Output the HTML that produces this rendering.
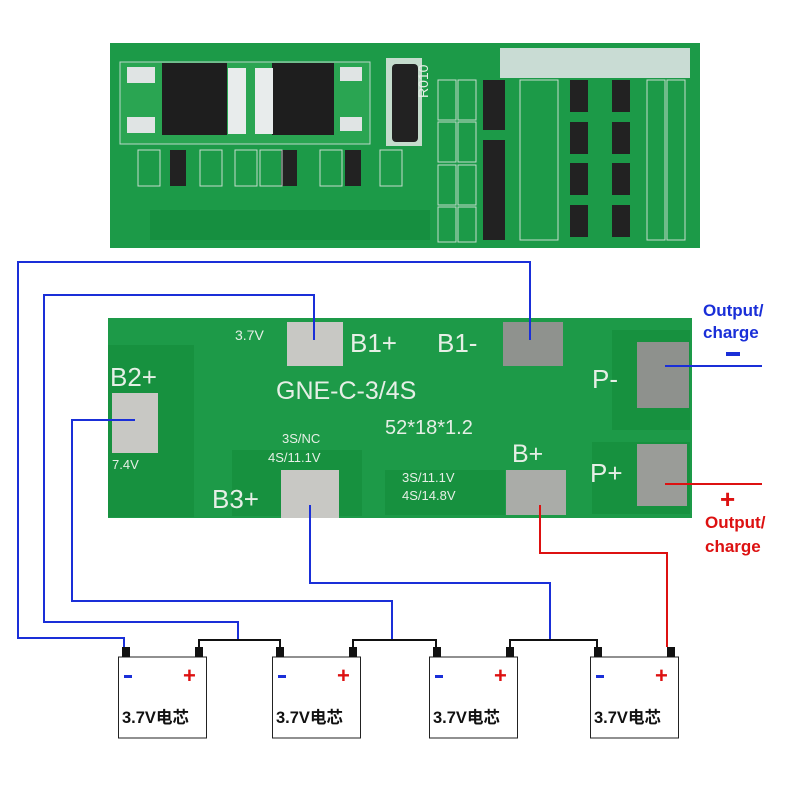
<!DOCTYPE html>
<html><head><meta charset="utf-8"><style>
html,body{margin:0;padding:0;background:#fff;width:800px;height:800px;overflow:hidden}
svg{display:block}
.s{font-family:"Liberation Sans",sans-serif;fill:#e6efe6}
.b{font-family:"Liberation Sans","Noto Sans CJK SC",sans-serif;font-weight:bold}
</style></head><body>
<svg width="800" height="800" viewBox="0 0 800 800">
<!-- top board -->
<rect x="110" y="43" width="590" height="205" fill="#1c9a48"/>
<rect x="500" y="48" width="190" height="30" fill="#c9dcd4"/>
<rect x="150" y="210" width="280" height="30" fill="#168f40"/>
<g fill="#c5dccd">
<rect x="120" y="62" width="250" height="82" fill="#2aa552" stroke="#b8d8c8"/>
<rect x="386" y="58" width="36" height="88"/>
</g>
<rect x="162" y="63" width="65" height="72" fill="#1e1e1e"/>
<rect x="272" y="63" width="62" height="72" fill="#1e1e1e"/>
<rect x="228" y="68" width="18" height="66" fill="#e8ecec"/>
<rect x="255" y="68" width="18" height="66" fill="#e8ecec"/>
<rect x="127" y="67" width="28" height="16" fill="#e0e4e4"/>
<rect x="127" y="117" width="28" height="16" fill="#e0e4e4"/>
<rect x="340" y="67" width="22" height="14" fill="#e0e4e4"/>
<rect x="340" y="117" width="22" height="14" fill="#e0e4e4"/>
<rect x="392" y="64" width="26" height="78" rx="4" fill="#222"/>
<text x="412" y="118" transform="rotate(-90 410 100)" class="s" font-size="14">R010</text>
<g fill="#222">
<rect x="170" y="150" width="16" height="36"/><rect x="281" y="150" width="16" height="36"/><rect x="345" y="150" width="16" height="36"/>
<rect x="483" y="80" width="22" height="50"/><rect x="483" y="140" width="22" height="50"/><rect x="483" y="185" width="22" height="35"/><rect x="483" y="205" width="22" height="35"/>
<rect x="570" y="80" width="18" height="32"/><rect x="612" y="80" width="18" height="32"/>
<rect x="570" y="122" width="18" height="32"/><rect x="612" y="122" width="18" height="32"/>
<rect x="570" y="163" width="18" height="32"/><rect x="612" y="163" width="18" height="32"/>
<rect x="570" y="205" width="18" height="32"/><rect x="612" y="205" width="18" height="32"/>
</g>
<g fill="none" stroke="#c5dccd">
<rect x="138" y="150" width="22" height="36"/><rect x="200" y="150" width="22" height="36"/><rect x="235" y="150" width="22" height="36"/><rect x="260" y="150" width="22" height="36"/><rect x="320" y="150" width="22" height="36"/><rect x="380" y="150" width="22" height="36"/>
<rect x="438" y="80" width="18" height="40"/><rect x="458" y="80" width="18" height="40"/>
<rect x="438" y="122" width="18" height="40"/><rect x="458" y="122" width="18" height="40"/>
<rect x="438" y="165" width="18" height="40"/><rect x="458" y="165" width="18" height="40"/>
<rect x="438" y="207" width="18" height="35"/><rect x="458" y="207" width="18" height="35"/>
<rect x="647" y="80" width="18" height="160"/><rect x="667" y="80" width="18" height="160"/>
<rect x="520" y="80" width="38" height="160"/>
</g>
<!-- bottom board -->
<rect x="108" y="318" width="584" height="200" fill="#1d9a48"/>
<rect x="108" y="345" width="86" height="172" fill="#17913f"/>
<rect x="232" y="450" width="130" height="66" fill="#17913f"/>
<rect x="385" y="470" width="120" height="45" fill="#17913f"/>
<rect x="612" y="330" width="78" height="100" fill="#17913f"/>
<rect x="592" y="442" width="98" height="72" fill="#17913f"/>
<g fill="#c8c8c4">
<rect x="287" y="322" width="56" height="44"/>
<rect x="503" y="322" width="60" height="44" fill="#8f928e"/>
<rect x="112" y="393" width="46" height="60"/>
<rect x="281" y="470" width="58" height="48"/>
<rect x="506" y="470" width="60" height="45" fill="#aaaca8"/>
<rect x="637" y="342" width="52" height="66" fill="#8e918d"/>
<rect x="637" y="444" width="50" height="62" fill="#9a9c98"/>
</g>
<g class="s" font-family="Liberation Sans">
<text x="235" y="340" font-size="14">3.7V</text>
<text x="350" y="352" font-size="26">B1+</text>
<text x="437" y="352" font-size="26">B1-</text>
<text x="110" y="386" font-size="26">B2+</text>
<text x="276" y="399" font-size="25">GNE-C-3/4S</text>
<text x="385" y="434" font-size="20">52*18*1.2</text>
<text x="592" y="388" font-size="26">P-</text>
<text x="282" y="443" font-size="13">3S/NC</text>
<text x="268" y="462" font-size="13">4S/11.1V</text>
<text x="112" y="469" font-size="13">7.4V</text>
<text x="512" y="462" font-size="25">B+</text>
<text x="590" y="482" font-size="26">P+</text>
<text x="402" y="482" font-size="13">3S/11.1V</text>
<text x="402" y="500" font-size="13">4S/14.8V</text>
<text x="212" y="508" font-size="26">B3+</text>
</g>
<!-- wires -->
<g fill="none" stroke-width="2">
<polyline stroke="#1a2fd8" points="530,340 530,262 18,262 18,638 124,638 124,647"/>
<polyline stroke="#1a2fd8" points="314,340 314,295 44,295 44,622 238,622 238,640"/>
<polyline stroke="#1a2fd8" points="135,420 72,420 72,601 392,601 392,640"/>
<polyline stroke="#1a2fd8" points="310,505 310,583 550,583 550,640"/>
<polyline stroke="#dd1111" points="540,505 540,553 667,553 667,647"/>
<line stroke="#1a2fd8" x1="665" y1="366" x2="762" y2="366"/>
<line stroke="#dd1111" x1="665" y1="484" x2="762" y2="484"/>
<polyline stroke="#111" points="199,647 199,640 280,640 280,647"/>
<polyline stroke="#111" points="353,647 353,640 436,640 436,647"/>
<polyline stroke="#111" points="510,647 510,640 597,640 597,647"/>
</g>
<text x="703" y="316" class="b" font-size="17" fill="#1a2fd8">Output/</text>
<text x="703" y="338" class="b" font-size="17" fill="#1a2fd8">charge</text>
<rect x="726" y="352" width="14" height="4" fill="#1a2fd8"/>
<text x="720" y="508" class="b" font-size="26" fill="#dd1111">+</text>
<text x="705" y="528" class="b" font-size="17" fill="#dd1111">Output/</text>
<text x="705" y="552" class="b" font-size="17" fill="#dd1111">charge</text>
<!-- batteries -->
<g>
<g transform="translate(118,0)">
<rect x="0.5" y="657" width="88" height="81" fill="#fff" stroke="#222"/>
<rect x="4" y="647" width="8" height="10" fill="#111"/><rect x="77" y="647" width="8" height="10" fill="#111"/>
<rect x="6" y="675" width="8" height="3" fill="#1a2fd8"/>
<text x="65" y="683" class="b" font-size="22" fill="#dd1111">+</text>
<text x="4" y="723" class="b" font-size="16.5" fill="#111">3.7V电芯</text>
</g>
<g transform="translate(272,0)">
<rect x="0.5" y="657" width="88" height="81" fill="#fff" stroke="#222"/>
<rect x="4" y="647" width="8" height="10" fill="#111"/><rect x="77" y="647" width="8" height="10" fill="#111"/>
<rect x="6" y="675" width="8" height="3" fill="#1a2fd8"/>
<text x="65" y="683" class="b" font-size="22" fill="#dd1111">+</text>
<text x="4" y="723" class="b" font-size="16.5" fill="#111">3.7V电芯</text>
</g>
<g transform="translate(429,0)">
<rect x="0.5" y="657" width="88" height="81" fill="#fff" stroke="#222"/>
<rect x="4" y="647" width="8" height="10" fill="#111"/><rect x="77" y="647" width="8" height="10" fill="#111"/>
<rect x="6" y="675" width="8" height="3" fill="#1a2fd8"/>
<text x="65" y="683" class="b" font-size="22" fill="#dd1111">+</text>
<text x="4" y="723" class="b" font-size="16.5" fill="#111">3.7V电芯</text>
</g>
<g transform="translate(590,0)">
<rect x="0.5" y="657" width="88" height="81" fill="#fff" stroke="#222"/>
<rect x="4" y="647" width="8" height="10" fill="#111"/><rect x="77" y="647" width="8" height="10" fill="#111"/>
<rect x="6" y="675" width="8" height="3" fill="#1a2fd8"/>
<text x="65" y="683" class="b" font-size="22" fill="#dd1111">+</text>
<text x="4" y="723" class="b" font-size="16.5" fill="#111">3.7V电芯</text>
</g>
</g>
</svg>
</body></html>
